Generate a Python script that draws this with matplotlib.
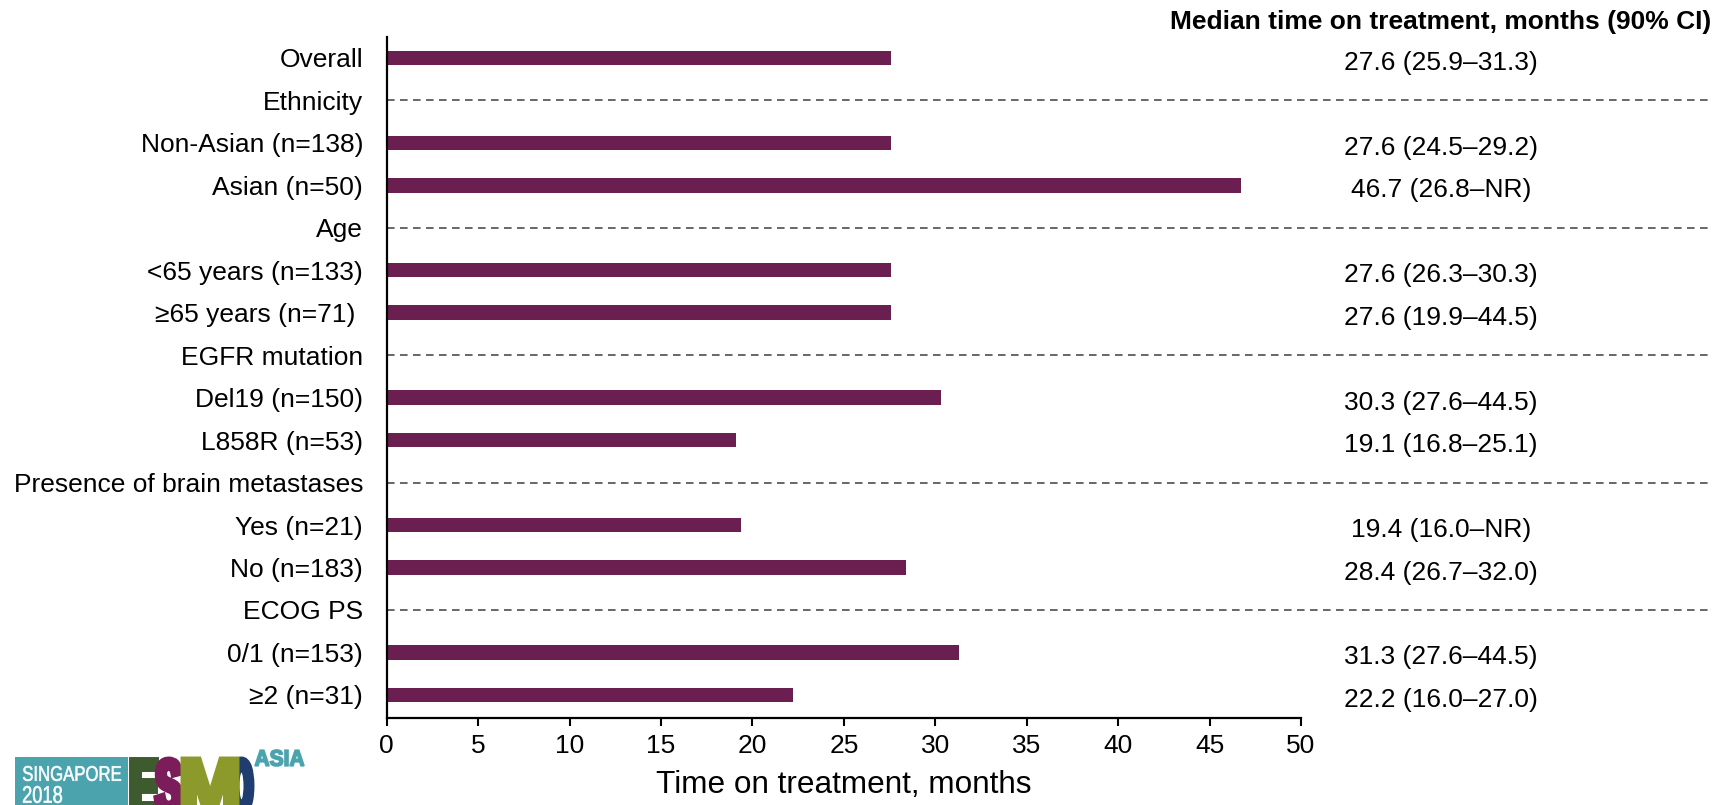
import matplotlib
matplotlib.use("Agg")
import matplotlib.pyplot as plt
import numpy as np
from matplotlib.textpath import TextPath
from matplotlib.patches import PathPatch, Rectangle
from matplotlib.font_manager import FontProperties
from matplotlib.transforms import Affine2D, blended_transform_factory

plt.rcParams['font.family'] = ['Liberation Sans', 'DejaVu Sans']

# Rows from top to bottom; group headers carry no value
row_labels = [
    "Overall", "Ethnicity", "Non-Asian (n=138)", "Asian (n=50)", "Age",
    "<65 years (n=133)", "\u226565 years (n=71) ", "EGFR mutation",
    "Del19 (n=150)", "L858R (n=53)", "Presence of brain metastases",
    "Yes (n=21)", "No (n=183)", "ECOG PS", "0/1 (n=153)", "\u22652 (n=31)",
]
median_months = [
    27.6, None, 27.6, 46.7, None,
    27.6, 27.6, None,
    30.3, 19.1, None,
    19.4, 28.4, None, 31.3, 22.2,
]
ci_labels = [
    "27.6 (25.9\u201331.3)", None, "27.6 (24.5\u201329.2)", "46.7 (26.8\u2013NR)", None,
    "27.6 (26.3\u201330.3)", "27.6 (19.9\u201344.5)", None,
    "30.3 (27.6\u201344.5)", "19.1 (16.8\u201325.1)", None,
    "19.4 (16.0\u2013NR)", "28.4 (26.7\u201332.0)", None,
    "31.3 (27.6\u201344.5)", "22.2 (16.0\u201327.0)",
]
x_ticks = [0, 5, 10, 15, 20, 25, 30, 35, 40, 45, 50]

W, H = 1713, 805
BAR = "#6b1f50"

fig = plt.figure(figsize=(W / 100, H / 100), dpi=100)
ax = fig.add_axes([386.7 / W, 1 - 717.8 / H, (1301 - 386.7) / W, (717.8 - 37.3) / H])

ypos = np.arange(len(row_labels))
for y, v in zip(ypos, median_months):
    if v is None:
        # dashed separator for group header, running to the right edge
        ax.plot([0, 80], [y, y], color="#5c5c5c", lw=1.3, dashes=(4.2, 3.0),
                clip_on=False, zorder=1)
    else:
        ax.barh(y, v, height=0.34, color=BAR, zorder=2)

ax.set_xlim(0, 50)
ax.set_ylim(15.54, -0.485)
ax.set_yticks(ypos)
ax.set_yticklabels(row_labels, fontsize=19)
ax.tick_params(axis="y", length=0, pad=17)
ax.set_xticks(x_ticks)
ax.set_xticklabels([str(t) for t in x_ticks], fontsize=19)
ax.tick_params(axis="x", length=6, width=1.5, direction="out", pad=6)
for s in ("top", "right"):
    ax.spines[s].set_visible(False)
for s in ("left", "bottom"):
    ax.spines[s].set_linewidth(1.6)
ax.set_xlabel("Time on treatment, months", fontsize=22.7, labelpad=8)

# Right-hand column of medians with confidence intervals
tr = blended_transform_factory(fig.transFigure, ax.transData)
for y, t in zip(ypos, ci_labels):
    if t is not None:
        ax.text(1441 / W, y + 0.12, t, transform=tr, ha="center", va="center",
                fontsize=19, clip_on=False)
fig.text(1441 / W, 1 - 21.8 / H, "Median time on treatment, months (90% CI)",
         ha="center", va="center", fontsize=19, fontweight="bold")


# Congress logo, bottom left
def boxed_text(s, x0, y0, x1, y1, color, weight="normal", z=5, stroke=0.0):
    prop = FontProperties(family="Liberation Sans", weight=weight)
    tp = TextPath((0, 0), s, size=1, prop=prop)
    ext = tp.get_extents()
    sx = (x1 - x0) / ext.width
    sy = (y1 - y0) / ext.height
    tf = (Affine2D().translate(-ext.x0, -ext.y0).scale(sx, sy)
          .translate(x0, H - y1).scale(1 / W, 1 / H))
    path = tf.transform_path(tp)
    fig.add_artist(PathPatch(path, facecolor=color,
                             edgecolor=color if stroke else "none",
                             linewidth=stroke, joinstyle="miter",
                             transform=fig.transFigure, zorder=z))


fig.add_artist(Rectangle((15 / W, 0), (128 - 15) / W, (H - 757) / H,
                         transform=fig.transFigure, facecolor="#4aa3ad",
                         edgecolor="none", zorder=4))
boxed_text("SINGAPORE", 23, 766, 121, 781, "white", stroke=0.4)
boxed_text("2018", 23, 786, 62, 803, "white", stroke=0.4)
boxed_text("E", 132, 760, 156, 812, "#3e5b2f", "bold", 5, stroke=5)
boxed_text("S", 157, 760, 180, 812, "#7a1d5a", "bold", 6, stroke=5)
boxed_text("M", 184, 760, 236, 812, "#8c9a2c", "bold", 7, stroke=5)
boxed_text("O", 232, 760, 251, 812, "#1f3d6e", "bold", 6, stroke=5)
boxed_text("ASIA", 255, 750, 304, 766, "#4aa3ad", "bold", 5, stroke=1.2)

fig.savefig("out.png", dpi=100)
